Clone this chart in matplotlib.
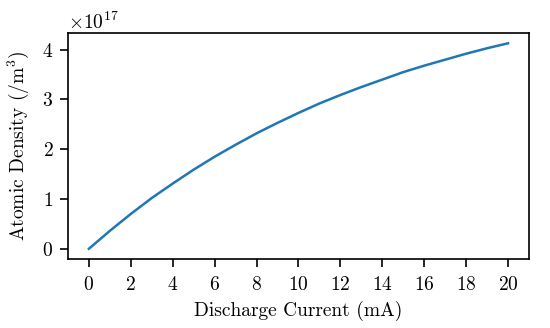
import matplotlib
matplotlib.use("Agg")
import matplotlib.pyplot as plt

# discharge current (mA) and atomic density (/m^3)
current = [0, 1, 2, 3, 4, 5, 6, 7, 8, 9, 10,
           11, 12, 13, 14, 15, 16, 17, 18, 19, 20]
density = [0.0, 0.36, 0.70, 1.02, 1.31, 1.59, 1.85, 2.09, 2.32, 2.53, 2.73,
           2.92, 3.09, 3.25, 3.40, 3.55, 3.68, 3.80, 3.92, 4.03, 4.13]
density = [d * 1e17 for d in density]

plt.rcParams['font.family'] = 'serif'
plt.rcParams['font.serif'] = ['cmr10']
plt.rcParams['mathtext.fontset'] = 'cm'
plt.rcParams['axes.formatter.use_mathtext'] = True
plt.rcParams['font.size'] = 14
plt.rcParams['axes.linewidth'] = 1.2
plt.rcParams['xtick.major.size'] = 5.5
plt.rcParams['ytick.major.size'] = 5.5
plt.rcParams['xtick.major.width'] = 1.2
plt.rcParams['ytick.major.width'] = 1.2
plt.rcParams['xtick.major.pad'] = 6.5
plt.rcParams['ytick.major.pad'] = 5

fig = plt.figure(figsize=(5.5, 3.28), dpi=100)
ax = fig.add_axes([0.1236, 0.2104, 0.8382, 0.689])

ax.plot(current, density, color='#1f77b4', linewidth=1.8)

ax.set_xticks(range(0, 21, 2))
ax.set_xlabel("Discharge Current (mA)", labelpad=5)
ax.set_ylabel("Atomic Density (/m$^3$)", labelpad=8)

fig.savefig("out.png", dpi=100)
